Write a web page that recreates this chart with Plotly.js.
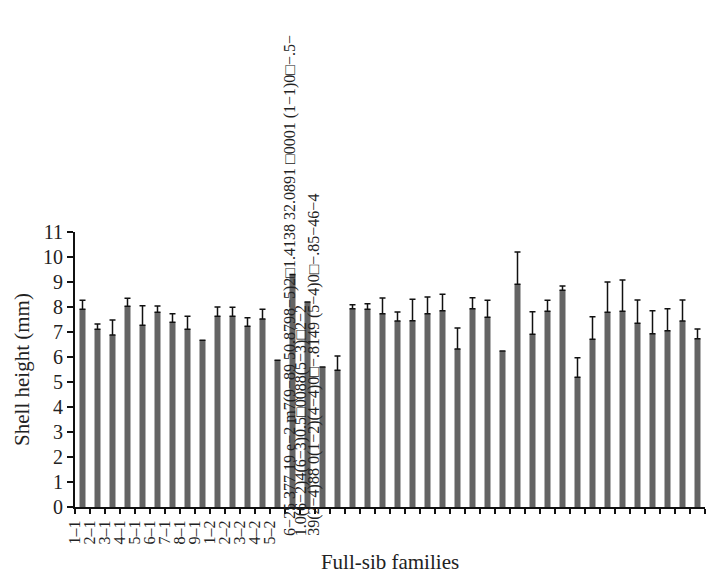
<!DOCTYPE html>
<html><head><meta charset="utf-8">
<script src="https://cdn.plot.ly/plotly-3.0.1.min.js"></script>
<style>html,body{margin:0;padding:0;background:#fff}#chart{width:707px;height:574px}</style>
</head><body><div id="chart"></div>
<script>
// Full-sib family tick labels (only the first ones are legible in the reference)
const tickLabels = ["1–1","2–1","3–1","4–1","5–1","6–1","7–1","8–1","9–1","1–2","2–2","3–2","4–2","5–2"];
// Mean shell height (mm) per family
const meanHeight = [7.91,7.11,6.88,8.03,7.27,7.79,7.39,7.11,6.67,7.63,7.63,7.23,7.52,5.87,
  9.3,8.2,5.6,
  5.47,7.93,7.91,7.73,7.44,7.45,7.73,7.85,6.32,7.93,7.59,6.24,8.91,6.91,7.83,8.67,5.19,6.71,
  7.79,7.83,7.35,6.93,7.05,7.44,6.73];
// Upper error (SD, mm); null where no error bar is drawn
const sdHeight = [0.36,0.21,0.60,0.32,0.78,0.25,0.34,0.52,null,0.37,0.36,0.34,0.39,null,
  null,null,null,
  0.57,0.16,0.22,0.63,0.36,0.86,0.67,0.66,0.84,0.44,0.68,null,1.29,0.90,0.44,0.17,0.78,0.90,
  1.21,1.25,0.93,0.92,0.88,0.84,0.39];
// Overlapping (garbled) text columns from the source figure
const garbledText = [
  "6−25 377 19 e−2 m7(9−89 50.8798−5)2□1.4138 32.0891 □0001 (1−1)0□−.5−",
  "1.0(6−2)4(6−3)0.5□0088(5−3)□2−2",
  "39(2−4)88 0(1−2)(4−4)0□−.8149 (5−4)0□−.85−46−4"
];

const n = meanHeight.length;
const xIdx = meanHeight.map((_, i) => i);
const tickVals = [], tickText = [];
for (let i = 0; i <= n; i++) { tickVals.push(i - 0.5); tickText.push(i < tickLabels.length ? tickLabels[i] : ""); }

const FONT = "Liberation Serif, Times New Roman, serif";
const trace = {
  type: "bar", x: xIdx, y: meanHeight,
  marker: {color: "#646464"},
  error_y: {type: "data", symmetric: false, array: sdHeight, arrayminus: meanHeight.map(() => 0),
            color: "#111", thickness: 1.5, width: 3},
  hoverinfo: "y"
};
const colX = [0.342, 0.360, 0.379];
const annotations = garbledText.map((t, i) => ({
  xref: "paper", yref: "paper", x: colX[i], y: -0.109, text: t, textangle: -90,
  showarrow: false, xanchor: "center", yanchor: "bottom",
  font: {family: FONT, size: 16, color: "#222"}, borderpad: 0
}));
const layout = {
  width: 707, height: 574,
  margin: {l: 75, r: 2, t: 232, b: 67},
  paper_bgcolor: "#fff", plot_bgcolor: "#fff",
  showlegend: false, bargap: 0.6,
  font: {family: FONT, color: "#222"},
  xaxis: {range: [-0.5, n - 0.5], tickmode: "array", tickvals: tickVals, ticktext: tickText,
          tickangle: -90, ticks: "outside", ticklen: 5, tickwidth: 1.2, tickcolor: "#111",
          showline: true, linecolor: "#111", linewidth: 2, showgrid: false, zeroline: false,
          tickfont: {family: FONT, size: 16, color: "#222"},
          title: {text: "Full-sib families", font: {family: FONT, size: 21, color: "#222"}, standoff: 16}},
  yaxis: {range: [0, 11], dtick: 1, ticks: "outside", ticklen: 6, tickwidth: 1.2, tickcolor: "#111",
          showline: true, linecolor: "#111", linewidth: 2, showgrid: false, zeroline: false,
          tickfont: {family: FONT, size: 20, color: "#222"},
          title: {text: "Shell height (mm)", font: {family: FONT, size: 21, color: "#222"}, standoff: 8}},
  annotations: annotations
};
Plotly.newPlot("chart", [trace], layout, {displayModeBar: false, staticPlot: true});
</script></body></html>
